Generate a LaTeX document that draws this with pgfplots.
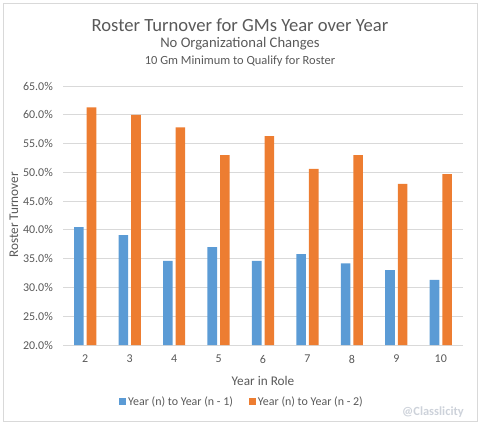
\documentclass[border=0pt]{standalone}
\usepackage{fontspec}
\setmainfont{Carlito}
\usepackage{pgfplots}
\pgfplotsset{compat=1.18}
\definecolor{tblue}{RGB}{91,155,213}
\definecolor{torange}{RGB}{237,125,49}
\definecolor{txt}{RGB}{89,89,89}
\definecolor{gridc}{RGB}{217,217,217}
\definecolor{wm}{RGB}{205,210,218}
\begin{document}
\begin{tikzpicture}[x=1bp,y=1bp]
\path[use as bounding box] (0,0) rectangle (481,425);
\draw[gridc] (3,4) rectangle (477,422);
% titles
\node[txt, font=\fontsize{18.7}{20}\selectfont] at (240,400) {Roster Turnover for GMs Year over Year};
\node[txt, font=\fontsize{14.7}{16}\selectfont] at (240,381) {No Organizational Changes};
\node[txt, font=\fontsize{12.5}{14}\selectfont] at (240,364) {10 Gm Minimum to Qualify for Roster};
\node[wm, font=\bfseries\fontsize{12.5}{14}\selectfont] at (433,13) {@Classlicity};
\begin{axis}[
  at={(63bp,80bp)}, anchor=south west,
  scale only axis, width=400bp, height=259bp,
  ybar=3bp, bar width=9.6bp,
  xmin=1.5, xmax=10.5, ymin=20, ymax=65,
  xtick={2,...,10}, ytick={20,25,...,65},
  /pgf/number format/assume math mode=true,
  yticklabel={\pgfmathprintnumber[fixed,fixed zerofill,precision=1]{\tick}\%},
  ymajorgrids, grid style={gridc, line width=0.8bp},
  axis line style={draw=none},
  major tick length=0pt,
  tick label style={txt, font=\fontsize{12}{14}\selectfont},
  yticklabel style={anchor=east, inner sep=0pt, xshift=-10bp},
  xticklabel style={anchor=north, inner sep=0pt, yshift=-10bp},
  xlabel={Year in Role}, ylabel={Roster Turnover},
  label style={txt, font=\fontsize{13.3}{15}\selectfont},
  xlabel style={at={(axis description cs:0.5,-0.139)}, anchor=center},
  ylabel style={at={(axis description cs:-0.1225,0.502)}, anchor=center},
  legend columns=2,
  legend style={at={(0.4475,-0.22)}, anchor=center, draw=none, fill=none,
    font=\fontsize{12}{14}\selectfont, text=txt,
    /tikz/every even column/.append style={column sep=14bp}},
  legend image code/.code={\fill[#1] (0bp,-3.5bp) rectangle (7bp,3.5bp);},
]
\addplot[fill=tblue, draw=none] coordinates
{(2,40.5) (3,39.1) (4,34.6) (5,37.0) (6,34.6) (7,35.8) (8,34.2) (9,33.0) (10,31.3)};
\addplot[fill=torange, draw=none] coordinates
{(2,61.3) (3,60.0) (4,57.8) (5,53.0) (6,56.3) (7,50.6) (8,53.0) (9,48.0) (10,49.7)};
\legend{Year (n) to Year (n - 1), Year (n) to Year (n - 2)}
\end{axis}
\end{tikzpicture}
\end{document}
